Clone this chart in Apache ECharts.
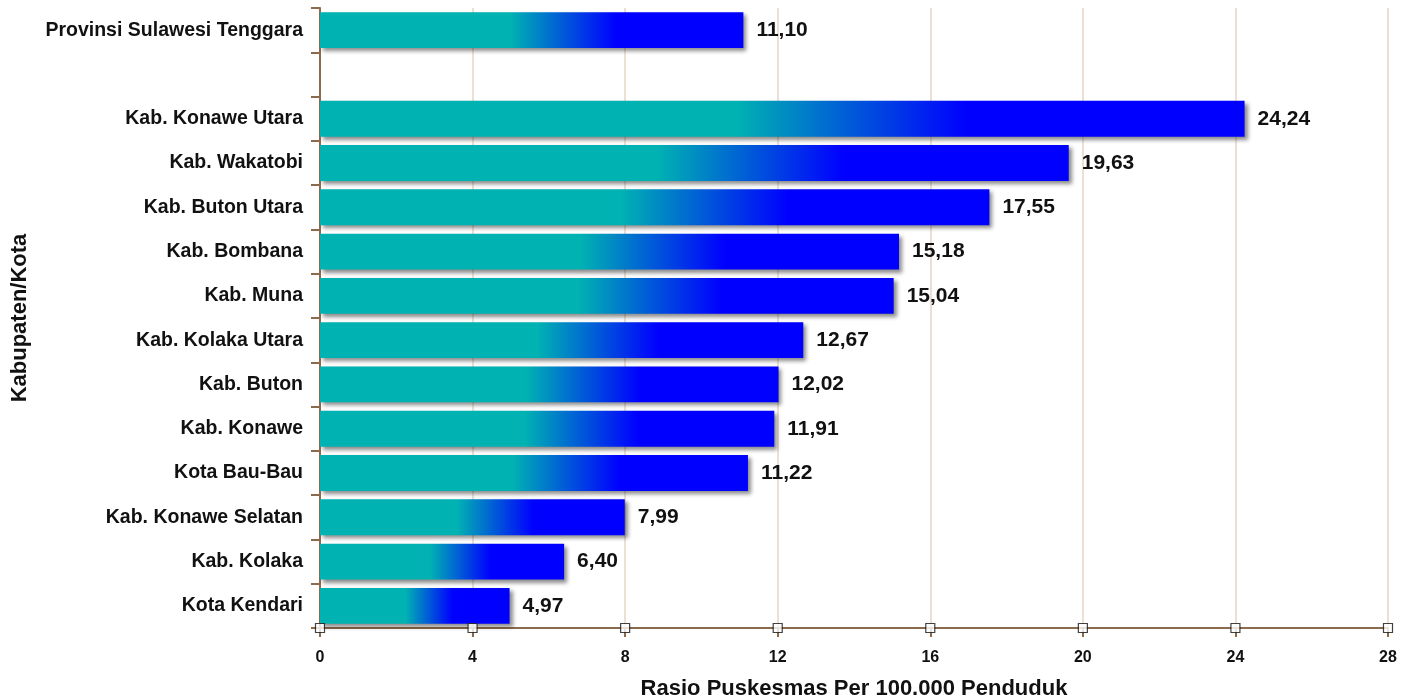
<!DOCTYPE html>
<html><head><meta charset="utf-8">
<script src="https://cdn.jsdelivr.net/npm/echarts@6/dist/echarts.min.js"></script>
<style>html,body{margin:0;padding:0;background:#fff}#c{width:1406px;height:698px}</style>
</head><body><div id="c"></div>
<script>
const categories = ['Provinsi Sulawesi Tenggara', '', 'Kab. Konawe Utara', 'Kab. Wakatobi', 'Kab. Buton Utara', 'Kab. Bombana', 'Kab. Muna', 'Kab. Kolaka Utara', 'Kab. Buton', 'Kab. Konawe', 'Kota Bau-Bau', 'Kab. Konawe Selatan', 'Kab. Kolaka', 'Kota Kendari'];
const values = [11.10, null, 24.24, 19.63, 17.55, 15.18, 15.04, 12.67, 12.02, 11.91, 11.22, 7.99, 6.40, 4.97];
const xTicks = [0, 4, 8, 12, 16, 20, 24, 28];

const chart = echarts.init(document.getElementById('c'));
const grad = new echarts.graphic.LinearGradient(0, 0, 1, 0, [
  {offset: 0, color: '#00b2b2'}, {offset: 0.45, color: '#00b2b2'},
  {offset: 0.70, color: '#0000ff'}, {offset: 1, color: '#0000ff'}]);
const brown = '#8c6a4c';
const font = 'Liberation Sans, Arial, sans-serif';
chart.setOption({
  animation: false,
  grid: [
    {left: 320, right: 18, top: 8, bottom: 70, outerBoundsMode: 'none', containLabel: false},
    {left: 320, right: 18, top: 8, bottom: 70, outerBoundsMode: 'none', containLabel: false}
  ],
  xAxis: [{
    type: 'value', min: 0, max: 28, interval: 4, gridIndex: 0,
    name: 'Rasio Puskesmas Per 100.000 Penduduk', nameLocation: 'middle', nameGap: 50,
    nameTextStyle: {fontFamily: font, fontWeight: 'bold', fontSize: 22, color: '#111'},
    axisLine: {show: true, onZero: false, lineStyle: {color: brown, width: 2}},
    axisTick: {show: true, length: 9, lineStyle: {color: brown, width: 2}},
    axisLabel: {fontFamily: font, fontWeight: 'bold', fontSize: 16, color: '#111', margin: 22},
    splitLine: {show: true, lineStyle: {color: '#e6d6c6', width: 1.5}}
  }, {
    type: 'value', min: 0, max: 28, gridIndex: 1, show: false
  }],
  yAxis: [{
    type: 'category', data: categories, inverse: true, gridIndex: 0,
    name: 'Kabupaten/Kota', nameLocation: 'middle', nameGap: 289, nameRotate: 90,
    nameTextStyle: {fontFamily: font, fontWeight: 'bold', fontSize: 22, color: '#111'},
    axisLine: {show: true, lineStyle: {color: brown, width: 2}},
    axisTick: {show: true, length: 9, lineStyle: {color: brown, width: 2}},
    axisLabel: {fontFamily: font, fontWeight: 'bold', fontSize: 19.5, color: '#111', margin: 17},
    splitLine: {show: false}
  }, {
    type: 'value', min: 0, max: 1, gridIndex: 1, show: false
  }],
  series: [{
    type: 'bar', data: values, barWidth: '81%', xAxisIndex: 0, yAxisIndex: 0,
    itemStyle: {color: grad, shadowColor: 'rgba(0,0,0,0.45)', shadowBlur: 4, shadowOffsetX: 3, shadowOffsetY: 3},
    label: {show: true, position: 'right', distance: 13, fontFamily: font, fontWeight: 'bold', fontSize: 21, color: '#111',
      formatter: p => p.value == null ? '' : p.value.toFixed(2).replace('.', ',')}
  }, {
    type: 'scatter', xAxisIndex: 1, yAxisIndex: 1, clip: false, z: 10,
    data: xTicks.map(t => [t, 0]), symbol: 'rect', symbolSize: 9,
    itemStyle: {color: '#fff', borderColor: '#111', borderWidth: 1.2}, silent: true
  }]
});
</script></body></html>
